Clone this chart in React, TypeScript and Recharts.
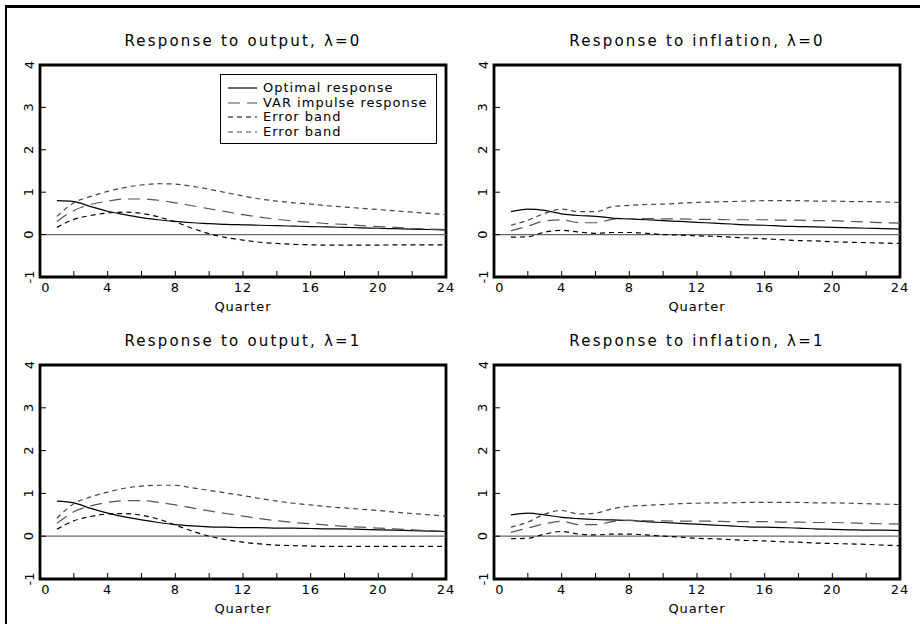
import React from 'react';
import { LineChart, Line, XAxis, YAxis, ReferenceLine, ReferenceArea, Legend } from 'recharts';

// horizon in quarters
const quarters = [1, 2, 3, 4, 5, 6, 7, 8, 9, 10, 11, 12, 13, 14, 15, 16, 17, 18, 19, 20, 21, 22, 23, 24];
const xTicks = [0, 2, 4, 6, 8, 10, 12, 14, 16, 18, 20, 22, 24];
const yTicks = [-1, 0, 1, 2, 3, 4];
const legendNames = ['Optimal response', 'VAR impulse response', 'Error band', 'Error band'];

// response to output, lambda = 0
const outOpt0 = [0.80, 0.78, 0.66, 0.55, 0.47, 0.40, 0.35, 0.31, 0.28, 0.26, 0.24, 0.23, 0.22, 0.21, 0.20, 0.19, 0.18, 0.17, 0.16, 0.15, 0.14, 0.13, 0.12, 0.11];
const outVar0 = [0.31, 0.57, 0.71, 0.79, 0.84, 0.84, 0.81, 0.75, 0.68, 0.61, 0.54, 0.47, 0.41, 0.36, 0.32, 0.29, 0.26, 0.24, 0.21, 0.19, 0.17, 0.15, 0.13, 0.12];
const outLo0 = [0.17, 0.36, 0.45, 0.51, 0.53, 0.50, 0.42, 0.30, 0.15, 0.02, -0.07, -0.13, -0.18, -0.21, -0.23, -0.24, -0.25, -0.25, -0.25, -0.25, -0.24, -0.24, -0.24, -0.24];
const outHi0 = [0.43, 0.75, 0.90, 1.02, 1.11, 1.17, 1.20, 1.19, 1.14, 1.07, 0.99, 0.91, 0.84, 0.79, 0.75, 0.72, 0.68, 0.65, 0.62, 0.59, 0.56, 0.53, 0.50, 0.47];

// response to inflation, lambda = 0
const infOpt0 = [0.54, 0.60, 0.57, 0.49, 0.45, 0.43, 0.39, 0.37, 0.35, 0.33, 0.31, 0.29, 0.27, 0.25, 0.23, 0.22, 0.20, 0.19, 0.18, 0.17, 0.16, 0.15, 0.14, 0.13];
const infVar0 = [0.09, 0.20, 0.32, 0.35, 0.28, 0.28, 0.36, 0.38, 0.38, 0.37, 0.37, 0.36, 0.36, 0.35, 0.35, 0.35, 0.34, 0.34, 0.33, 0.33, 0.31, 0.30, 0.28, 0.27];
const infLo0 = [-0.06, -0.05, 0.06, 0.10, 0.06, 0.03, 0.05, 0.05, 0.03, 0.00, -0.01, -0.03, -0.04, -0.06, -0.08, -0.10, -0.12, -0.14, -0.15, -0.17, -0.18, -0.19, -0.20, -0.21];
const infHi0 = [0.22, 0.34, 0.50, 0.60, 0.54, 0.54, 0.66, 0.69, 0.71, 0.72, 0.74, 0.76, 0.77, 0.78, 0.79, 0.80, 0.80, 0.80, 0.79, 0.79, 0.78, 0.78, 0.77, 0.76];

// response to output, lambda = 1
const outOpt1 = [0.82, 0.78, 0.65, 0.54, 0.45, 0.38, 0.32, 0.27, 0.24, 0.22, 0.21, 0.20, 0.20, 0.19, 0.19, 0.18, 0.17, 0.17, 0.16, 0.15, 0.14, 0.13, 0.12, 0.11];
const outVar1 = [0.30, 0.57, 0.71, 0.79, 0.83, 0.83, 0.79, 0.73, 0.66, 0.59, 0.53, 0.47, 0.41, 0.36, 0.32, 0.29, 0.26, 0.23, 0.21, 0.19, 0.17, 0.15, 0.13, 0.12];
const outLo1 = [0.16, 0.36, 0.46, 0.52, 0.53, 0.49, 0.40, 0.26, 0.12, 0.00, -0.08, -0.14, -0.18, -0.21, -0.22, -0.23, -0.24, -0.24, -0.24, -0.24, -0.24, -0.24, -0.24, -0.24];
const outHi1 = [0.42, 0.76, 0.92, 1.03, 1.12, 1.17, 1.19, 1.19, 1.13, 1.07, 1.01, 0.95, 0.88, 0.82, 0.77, 0.73, 0.69, 0.66, 0.63, 0.60, 0.56, 0.53, 0.50, 0.47];

// response to inflation, lambda = 1
const infOpt1 = [0.50, 0.54, 0.50, 0.44, 0.41, 0.39, 0.38, 0.37, 0.34, 0.32, 0.30, 0.28, 0.26, 0.24, 0.22, 0.21, 0.20, 0.19, 0.17, 0.16, 0.15, 0.14, 0.14, 0.13];
const infVar1 = [0.09, 0.19, 0.29, 0.35, 0.27, 0.27, 0.34, 0.37, 0.36, 0.36, 0.35, 0.35, 0.35, 0.34, 0.34, 0.34, 0.33, 0.33, 0.32, 0.32, 0.31, 0.30, 0.29, 0.28];
const infLo1 = [-0.06, -0.05, 0.05, 0.11, 0.05, 0.03, 0.05, 0.05, 0.03, 0.00, -0.02, -0.05, -0.06, -0.08, -0.10, -0.11, -0.13, -0.14, -0.16, -0.17, -0.18, -0.19, -0.21, -0.22];
const infHi1 = [0.21, 0.33, 0.52, 0.60, 0.52, 0.54, 0.64, 0.70, 0.72, 0.74, 0.76, 0.77, 0.78, 0.78, 0.79, 0.79, 0.79, 0.79, 0.78, 0.78, 0.77, 0.76, 0.75, 0.74];

const rows = (opt: number[], vr: number[], lo: number[], hi: number[]) =>
  quarters.map((q, i) => ({ q, opt: opt[i], vr: vr[i], lo: lo[i], hi: hi[i] }));

const FONT = '"DejaVu Sans", sans-serif';

const lineStyles = [
  { key: 'opt', stroke: '#000', dash: undefined },
  { key: 'vr', stroke: '#555', dash: '12 7' },
  { key: 'lo', stroke: '#000', dash: '5 4' },
  { key: 'hi', stroke: '#444', dash: '5 4' },
];

const BottomTick = (p: any) => {
  const v = p.payload.value;
  return (
    <g>
      <line x1={p.x} y1={p.y} x2={p.x} y2={p.y - 6} stroke="#000" strokeWidth={1} />
      {v % 4 === 0 && (
        <text x={p.x + (v === 0 ? 6 : 0)} y={p.y + 15} textAnchor="middle"
          fontFamily={FONT} fontSize={13} letterSpacing={1} fill="#000">{v}</text>
      )}
    </g>
  );
};
const TopTick = (p: any) => <line x1={p.x} y1={p.y} x2={p.x} y2={p.y + 6} stroke="#000" strokeWidth={1} />;
const LeftTick = (p: any) => (
  <g>
    <line x1={p.x} y1={p.y} x2={p.x + 6} y2={p.y} stroke="#000" strokeWidth={1} />
    <text x={p.x - 11} y={p.y} textAnchor="middle" dominantBaseline="central"
      transform={`rotate(-90, ${p.x - 11}, ${p.y})`}
      fontFamily={FONT} fontSize={13} fill="#000">{p.payload.value}</text>
  </g>
);
const RightTick = (p: any) => <line x1={p.x} y1={p.y} x2={p.x - 6} y2={p.y} stroke="#000" strokeWidth={1} />;

const LegendBox = () => (
  <div style={{ border: '1.5px solid #000', background: '#fff', width: 217, height: 70, paddingTop: 6, boxSizing: 'border-box' }}>
    {legendNames.map((name, i) => (
      <div key={i} style={{ display: 'flex', alignItems: 'center', height: 14.5 }}>
        <svg width={42} height={10}>
          <line x1={7} y1={5} x2={36} y2={5} stroke={lineStyles[i].stroke} strokeWidth={1.2}
            strokeDasharray={lineStyles[i].dash} />
        </svg>
        <span style={{ fontFamily: FONT, fontSize: 13, letterSpacing: 1, lineHeight: '14px', color: '#000' }}>{name}</span>
      </div>
    ))}
  </div>
);

interface PanelProps {
  title: string;
  data: any[];
  left: number;
  top: number;
  height: number;
  margin: { top: number; left: number; right: number; bottom: number };
  legend?: boolean;
}

const Panel: React.FC<PanelProps> = ({ title, data, left, top, height, margin, legend }) => {
  const plotLeft = margin.left + 30;
  const plotWidth = 460 - plotLeft - margin.right;
  return (
    <div style={{ position: 'absolute', left, top, width: 460, height }}>
      <div style={{
        position: 'absolute', left: plotLeft, width: plotWidth, top: margin.top - 34, textAlign: 'center',
        fontFamily: FONT, fontSize: 15, letterSpacing: 2.2, lineHeight: '20px', color: '#000'
      }}>{title}</div>
      <LineChart width={460} height={height} data={data} margin={margin}>
        <XAxis dataKey="q" type="number" domain={[0, 24]} ticks={xTicks} interval={0} height={35}
          axisLine={false} tickLine={false} tickSize={0} tickMargin={0}
          tick={BottomTick}
          label={{ value: 'Quarter', position: 'insideBottom', offset: 1, fontFamily: FONT, fontSize: 13, letterSpacing: 1, fill: '#000' }} />
        <XAxis xAxisId="top" orientation="top" dataKey="q" type="number" domain={[0, 24]} ticks={xTicks}
          interval={0} height={0} axisLine={false} tickLine={false}
          tickSize={0} tickMargin={0} tick={TopTick} />
        <YAxis type="number" domain={[-1, 4]} ticks={yTicks} interval={0} width={30}
          axisLine={false} tickLine={false} tickSize={0} tickMargin={0}
          tick={LeftTick} />
        <YAxis yAxisId="right" orientation="right" type="number" domain={[-1, 4]} ticks={yTicks} interval={0}
          width={0} axisLine={false} tickLine={false} tickSize={0}
          tickMargin={0} tick={RightTick} />
        <ReferenceLine y={0} stroke="#666" strokeWidth={1.2} />
        {lineStyles.map((s) => (
          <Line key={s.key} dataKey={s.key} type="monotone" stroke={s.stroke} strokeWidth={1.2}
            strokeDasharray={s.dash} dot={false} activeDot={false} isAnimationActive={false} />
        ))}
        <ReferenceArea x1={0} x2={24} y1={-1} y2={4} fill="none" fillOpacity={0}
          stroke="#000" strokeWidth={2.8} strokeOpacity={1} ifOverflow="visible" />
        {legend && (
          <Legend layout="vertical" align="center" verticalAlign="middle" content={() => <LegendBox />}
            wrapperStyle={{ left: 220, top: 74, width: 217, height: 70 }} />
        )}
      </LineChart>
    </div>
  );
};

export default function App() {
  return (
    <div style={{ position: 'absolute', left: 0, top: 0, width: 920, height: 624, background: '#fff', overflow: 'hidden' }}>
      <div style={{ position: 'absolute', left: 5, top: 5, width: 940, height: 640, borderLeft: '2.5px solid #000', borderTop: '3px solid #000' }} />
      <Panel title="Response to output, λ=0" data={rows(outOpt0, outVar0, outLo0, outHi0)} left={0} top={0}
        height={322} margin={{ top: 65, left: 10, right: 14, bottom: 10 }} legend />
      <Panel title="Response to inflation, λ=0" data={rows(infOpt0, infVar0, infLo0, infHi0)} left={460} top={0}
        height={322} margin={{ top: 65, left: 4, right: 20, bottom: 10 }} />
      <Panel title="Response to output, λ=1" data={rows(outOpt1, outVar1, outLo1, outHi1)} left={0} top={312}
        height={312} margin={{ top: 53, left: 10, right: 14, bottom: 10 }} />
      <Panel title="Response to inflation, λ=1" data={rows(infOpt1, infVar1, infLo1, infHi1)} left={460} top={312}
        height={312} margin={{ top: 53, left: 4, right: 20, bottom: 10 }} />
    </div>
  );
}
